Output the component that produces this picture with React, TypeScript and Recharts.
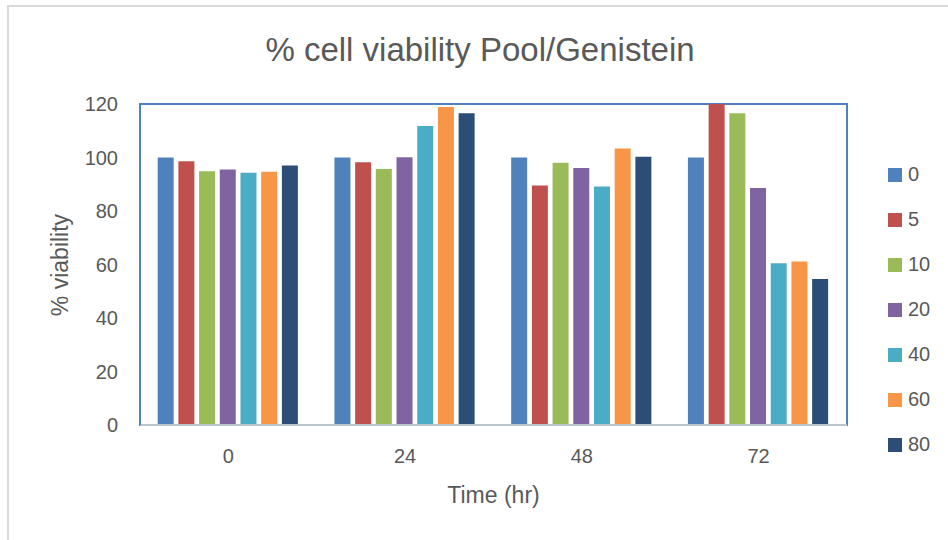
import React from "react";
import { BarChart, Bar, XAxis, YAxis, Legend, Label, ReferenceArea, ReferenceLine } from "recharts";

// categories (time points) and doses
const times = ["0", "24", "48", "72"];
const doses = ["0", "5", "10", "20", "40", "60", "80"];
const colors = ["#4F81BD", "#C0504D", "#9BBB59", "#8064A2", "#4BACC6", "#F79646", "#2C4D75"];

// % viability per dose, one value per time point
const dose0 = [100, 100, 100, 100];
const dose5 = [98.6, 98.2, 89.5, 120];
const dose10 = [94.9, 95.7, 98.0, 116.5];
const dose20 = [95.5, 100.1, 96.1, 88.6];
const dose40 = [94.3, 111.8, 89.2, 60.5];
const dose60 = [94.7, 118.9, 103.4, 61.1];
const dose80 = [97.0, 116.5, 100.3, 54.6];
const yTicks = [0, 20, 40, 60, 80, 100, 120];

const series = [dose0, dose5, dose10, dose20, dose40, dose60, dose80];

const data = times.map((t, i) => {
  const row: Record<string, string | number> = { time: t };
  doses.forEach((d, j) => {
    row["d" + d] = series[j][i];
  });
  return row;
});

const FONT = '"Liberation Sans", Arial, sans-serif';
const TXT = "#595959";

const LegendBox = () => (
  <div style={{ fontFamily: FONT, color: TXT, fontSize: 20 }}>
    {doses.map((d, i) => (
      <div key={d} style={{ height: 45, display: "flex", alignItems: "center" }}>
        <span style={{ width: 14, height: 14, background: colors[i], display: "inline-block", marginRight: 6 }} />
        <span>{d}</span>
      </div>
    ))}
  </div>
);

export default function App() {
  return (
    <div
      style={{
        position: "fixed",
        left: 0,
        top: 0,
        width: 948,
        height: 540,
        overflow: "hidden",
        background: "#fff",
      }}
    >
      <div
        style={{
          position: "absolute",
          left: 7,
          top: 5,
          width: 960,
          height: 560,
          borderLeft: "2px solid #d9d9d9",
          borderTop: "2px solid #d9d9d9",
        }}
      />
      <div
        style={{
          position: "absolute",
          left: 0,
          width: 960,
          top: 30,
          height: 40,
          lineHeight: "40px",
          textAlign: "center",
          fontFamily: FONT,
          fontSize: 33,
          color: TXT,
        }}
      >
        % cell viability Pool/Genistein
      </div>
      <div style={{ position: "absolute", left: 0, top: 0 }}>
        <BarChart
          width={948}
          height={540}
          data={data}
          margin={{ top: 104, right: 101, bottom: 35, left: 40 }}
          barCategoryGap="10%"
          barGap={4.7}
        >
          <ReferenceArea y1={0} y2={120} fill="none" stroke="#4F81BD" strokeWidth={2} />
          <XAxis
            dataKey="time"
            height={80}
            tickLine={false}
            tickMargin={18}
            axisLine={{ stroke: "#BCC6D3", strokeWidth: 2 }}
            tick={{ fill: TXT, fontSize: 20, fontFamily: FONT }}
          >
            <Label
              content={(props: any) => {
                const vb = props.viewBox || {};
                return (
                  <text
                    x={vb.x + vb.width / 2}
                    y={495}
                    textAnchor="middle"
                    dominantBaseline="central"
                    fill={TXT}
                    fontSize={23}
                    fontFamily={FONT}
                  >
                    Time (hr)
                  </text>
                );
              }}
            />
          </XAxis>
          <YAxis
            width={100}
            domain={[0, 120]}
            ticks={yTicks}
            allowDataOverflow
            tickLine={false}
            tickMargin={16}
            axisLine={{ stroke: "#4F81BD", strokeWidth: 2 }}
            tick={{ fill: TXT, fontSize: 20, fontFamily: FONT }}
          >
            <Label
              content={() => (
                <text
                  x={60}
                  y={265}
                  transform="rotate(-90 60 265)"
                  textAnchor="middle"
                  dominantBaseline="central"
                  fill={TXT}
                  fontSize={23}
                  fontFamily={FONT}
                >
                  % viability
                </text>
              )}
            />
          </YAxis>
          <ReferenceLine y={0} stroke="#BCC6D3" strokeWidth={2} />
          <Legend
            layout="vertical"
            align="center"
            verticalAlign="middle"
            content={() => <LegendBox />}
            wrapperStyle={{ position: "absolute", left: 888, top: 152, width: 60 }}
          />
          {doses.map((d, i) => (
            <Bar key={d} dataKey={"d" + d} name={d} fill={colors[i]} isAnimationActive={false} />
          ))}
        </BarChart>
      </div>
    </div>
  );
}
